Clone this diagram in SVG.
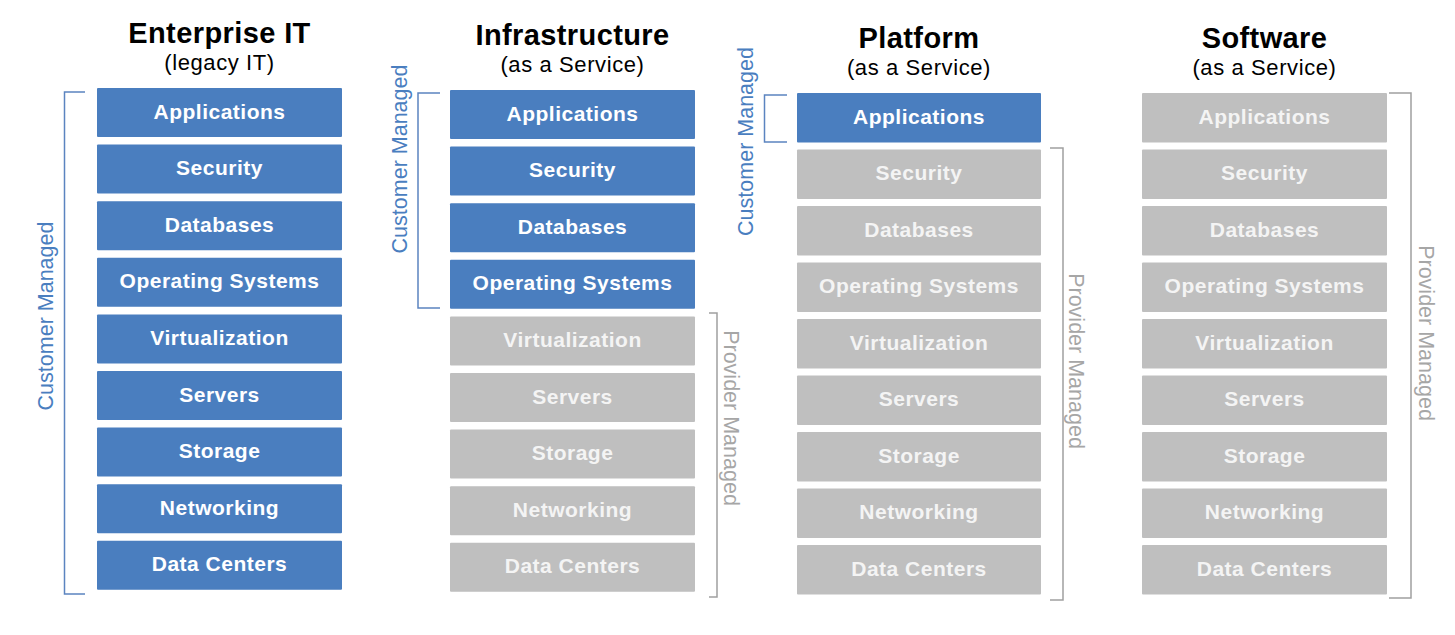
<svg xmlns="http://www.w3.org/2000/svg" width="1455" height="635" viewBox="0 0 1455 635">
<style>
.b{fill:#4A7EBF}
.g{fill:#BFBFBF}
.t{font-family:"Liberation Sans",Arial,sans-serif;font-weight:bold;font-size:21px;letter-spacing:0.5px;text-anchor:middle;fill:#FFFFFF}
.tg{fill:#F4F4F4}
.h{font-family:"Liberation Sans",Arial,sans-serif;font-weight:bold;font-size:29px;letter-spacing:0.4px;text-anchor:middle;fill:#000}
.s{font-family:"Liberation Sans",Arial,sans-serif;font-size:22px;letter-spacing:0.6px;text-anchor:middle;fill:#000}
.cm{font-family:"Liberation Sans",Arial,sans-serif;font-size:21.5px;text-anchor:middle;fill:#4A7EBF}
.pm{font-family:"Liberation Sans",Arial,sans-serif;font-size:21.5px;text-anchor:middle;fill:#A6A6A6}
.bb{fill:none;stroke:#5B84C0;stroke-width:1.5}
.bg{fill:none;stroke:#A0A0A0;stroke-width:1.5}
</style>
<rect width="1455" height="635" fill="#FFFFFF"/>
<g id="titles">
<text class="h" x="219.5" y="43">Enterprise IT</text>
<text class="s" x="219.5" y="70">(legacy IT)</text>
<text class="h" x="572.5" y="45">Infrastructure</text>
<text class="s" x="572.5" y="72">(as a Service)</text>
<text class="h" x="919" y="48">Platform</text>
<text class="s" x="919" y="75">(as a Service)</text>
<text class="h" x="1264.5" y="48">Software</text>
<text class="s" x="1264.5" y="75">(as a Service)</text>
</g>
<g id="enterprise">
<g id="e-applications"><rect class="b" x="97" y="88" width="245" height="49" rx="1"/><text class="t" x="219.5" y="118.5">Applications</text></g>
<g id="e-security"><rect class="b" x="97" y="144.6" width="245" height="49" rx="1"/><text class="t" x="219.5" y="175.1">Security</text></g>
<g id="e-databases"><rect class="b" x="97" y="201.2" width="245" height="49" rx="1"/><text class="t" x="219.5" y="231.7">Databases</text></g>
<g id="e-os"><rect class="b" x="97" y="257.8" width="245" height="49" rx="1"/><text class="t" x="219.5" y="288.3">Operating Systems</text></g>
<g id="e-virtualization"><rect class="b" x="97" y="314.4" width="245" height="49" rx="1"/><text class="t" x="219.5" y="344.9">Virtualization</text></g>
<g id="e-servers"><rect class="b" x="97" y="371" width="245" height="49" rx="1"/><text class="t" x="219.5" y="401.5">Servers</text></g>
<g id="e-storage"><rect class="b" x="97" y="427.6" width="245" height="49" rx="1"/><text class="t" x="219.5" y="458.1">Storage</text></g>
<g id="e-networking"><rect class="b" x="97" y="484.2" width="245" height="49" rx="1"/><text class="t" x="219.5" y="514.7">Networking</text></g>
<g id="e-datacenters"><rect class="b" x="97" y="540.8" width="245" height="49" rx="1"/><text class="t" x="219.5" y="571.3">Data Centers</text></g>
</g>
<g id="iaas">
<g id="i-applications"><rect class="b" x="450" y="90" width="245" height="49" rx="1"/><text class="t" x="572.5" y="120.5">Applications</text></g>
<g id="i-security"><rect class="b" x="450" y="146.6" width="245" height="49" rx="1"/><text class="t" x="572.5" y="177.1">Security</text></g>
<g id="i-databases"><rect class="b" x="450" y="203.2" width="245" height="49" rx="1"/><text class="t" x="572.5" y="233.7">Databases</text></g>
<g id="i-os"><rect class="b" x="450" y="259.8" width="245" height="49" rx="1"/><text class="t" x="572.5" y="290.3">Operating Systems</text></g>
<g id="i-virtualization"><rect class="g" x="450" y="316.4" width="245" height="49" rx="1"/><text class="t tg" x="572.5" y="346.9">Virtualization</text></g>
<g id="i-servers"><rect class="g" x="450" y="373" width="245" height="49" rx="1"/><text class="t tg" x="572.5" y="403.5">Servers</text></g>
<g id="i-storage"><rect class="g" x="450" y="429.6" width="245" height="49" rx="1"/><text class="t tg" x="572.5" y="460.1">Storage</text></g>
<g id="i-networking"><rect class="g" x="450" y="486.2" width="245" height="49" rx="1"/><text class="t tg" x="572.5" y="516.7">Networking</text></g>
<g id="i-datacenters"><rect class="g" x="450" y="542.8" width="245" height="49" rx="1"/><text class="t tg" x="572.5" y="573.3">Data Centers</text></g>
</g>
<g id="paas">
<g id="p-applications"><rect class="b" x="797" y="93" width="244" height="49.5" rx="1"/><text class="t" x="919" y="123.8">Applications</text></g>
<g id="p-security"><rect class="g" x="797" y="149.5" width="244" height="49.5" rx="1"/><text class="t tg" x="919" y="180.3">Security</text></g>
<g id="p-databases"><rect class="g" x="797" y="206" width="244" height="49.5" rx="1"/><text class="t tg" x="919" y="236.8">Databases</text></g>
<g id="p-os"><rect class="g" x="797" y="262.5" width="244" height="49.5" rx="1"/><text class="t tg" x="919" y="293.3">Operating Systems</text></g>
<g id="p-virtualization"><rect class="g" x="797" y="319" width="244" height="49.5" rx="1"/><text class="t tg" x="919" y="349.8">Virtualization</text></g>
<g id="p-servers"><rect class="g" x="797" y="375.5" width="244" height="49.5" rx="1"/><text class="t tg" x="919" y="406.3">Servers</text></g>
<g id="p-storage"><rect class="g" x="797" y="432" width="244" height="49.5" rx="1"/><text class="t tg" x="919" y="462.8">Storage</text></g>
<g id="p-networking"><rect class="g" x="797" y="488.5" width="244" height="49.5" rx="1"/><text class="t tg" x="919" y="519.3">Networking</text></g>
<g id="p-datacenters"><rect class="g" x="797" y="545" width="244" height="49.5" rx="1"/><text class="t tg" x="919" y="575.8">Data Centers</text></g>
</g>
<g id="saas">
<g id="s-applications"><rect class="g" x="1142" y="93" width="245" height="49.5" rx="1"/><text class="t tg" x="1264.5" y="123.8">Applications</text></g>
<g id="s-security"><rect class="g" x="1142" y="149.5" width="245" height="49.5" rx="1"/><text class="t tg" x="1264.5" y="180.3">Security</text></g>
<g id="s-databases"><rect class="g" x="1142" y="206" width="245" height="49.5" rx="1"/><text class="t tg" x="1264.5" y="236.8">Databases</text></g>
<g id="s-os"><rect class="g" x="1142" y="262.5" width="245" height="49.5" rx="1"/><text class="t tg" x="1264.5" y="293.3">Operating Systems</text></g>
<g id="s-virtualization"><rect class="g" x="1142" y="319" width="245" height="49.5" rx="1"/><text class="t tg" x="1264.5" y="349.8">Virtualization</text></g>
<g id="s-servers"><rect class="g" x="1142" y="375.5" width="245" height="49.5" rx="1"/><text class="t tg" x="1264.5" y="406.3">Servers</text></g>
<g id="s-storage"><rect class="g" x="1142" y="432" width="245" height="49.5" rx="1"/><text class="t tg" x="1264.5" y="462.8">Storage</text></g>
<g id="s-networking"><rect class="g" x="1142" y="488.5" width="245" height="49.5" rx="1"/><text class="t tg" x="1264.5" y="519.3">Networking</text></g>
<g id="s-datacenters"><rect class="g" x="1142" y="545" width="245" height="49.5" rx="1"/><text class="t tg" x="1264.5" y="575.8">Data Centers</text></g>
</g>
<g id="connectors">
<path class="bb" d="M85,92 H64.5 V594 H85"/>
<path class="bb" d="M440,93 H418 V308 H440"/>
<path class="bb" d="M787,95 H764.5 V142 H787"/>
<path class="bg" d="M709,313 H717 V597 H709"/>
<path class="bg" d="M1050,148 H1063 V600 H1050"/>
<path class="bg" d="M1389,93 H1411 V598 H1389"/>
</g>
<g id="labels">
<text class="cm" transform="translate(52.5,316) rotate(-90)">Customer Managed</text>
<text class="cm" transform="translate(407,159) rotate(-90)">Customer Managed</text>
<text class="cm" transform="translate(753,141.5) rotate(-90)">Customer Managed</text>
<text class="pm" transform="translate(724,418) rotate(90)">Provider Managed</text>
<text class="pm" transform="translate(1069,361) rotate(90)">Provider Managed</text>
<text class="pm" transform="translate(1419,333) rotate(90)">Provider Managed</text>
</g>
</svg>
